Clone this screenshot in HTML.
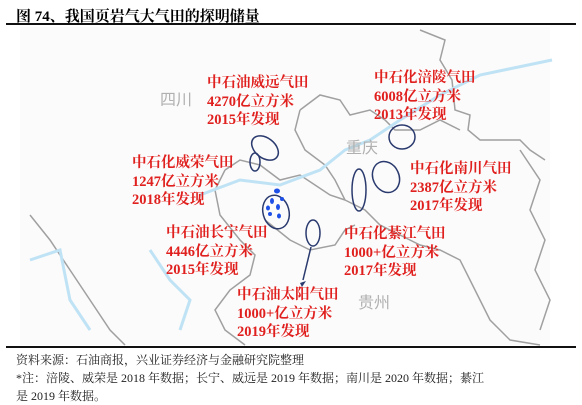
<!DOCTYPE html>
<html><head><meta charset="utf-8"><style>
body{margin:0;width:582px;height:405px;background:#fff;overflow:hidden;position:relative;font-family:"Liberation Serif","Noto Serif CJK SC",serif}
.t{position:absolute;white-space:nowrap}
.r{color:#e0201e;font-weight:bold;font-size:14.5px;line-height:18.5px}
.g{color:#b0b0b0;font-size:16px;font-family:"Liberation Sans","Noto Sans CJK SC",sans-serif}
.f{font-size:12px;color:#222;font-family:"Liberation Serif","Noto Serif CJK SC",serif}
</style></head><body>
<div class="t" style="left:16px;top:5px;font-size:15px;font-weight:bold;font-family:'Liberation Serif','Noto Serif CJK SC',serif">图 74、我国页岩气大气田的探明储量</div>
<div style="position:absolute;left:6px;top:23px;width:570px;height:2px;background:#111"></div>
<svg style="position:absolute;left:0;top:0" width="582" height="405">
<rect x="20" y="27" width="530" height="318" fill="#fbfbfb"/>
<g fill="none" stroke="#a0a0a0" stroke-width="1.5">
<path d="M420 30 L445 40 L440 60 L452 80 L455 110 L470 115 L468 130 L480 140 L520 140 L530 150 L545 160"/>
<path d="M300 110 L320 95 L340 100 L350 115 L370 110 L385 120 L395 130 L420 130 L440 120 L460 130"/>
<path d="M300 110 L295 130 L305 150 L325 165 L335 180 L345 200 L365 210 L380 225 L400 235 L420 245 L440 250 L460 260 L470 280 L480 300 L490 320 L510 340 L540 345"/>
<path d="M225 170 L240 160 L260 165 L280 180 L300 175 L315 185 L330 195 L345 200"/>
<path d="M225 170 L215 190 L220 215 L240 240 L255 255 L250 275 L230 290 L215 310 L225 330 L245 345"/>
<path d="M265 220 L290 240 L310 250 L335 245 L345 230 L355 225"/>
<path d="M30 215 L50 240 L70 270 L90 300 L110 330 L125 345"/>
<path d="M520 150 L540 180 L530 210 L545 240 L535 270 L550 300 L540 330"/>
</g>
<g fill="none" stroke="#bfe3f5" stroke-width="3">
<path d="M200 195 L240 180 L280 185 L320 170 L345 150 L370 140 L400 120 L440 95 L480 75 L552 60"/>
<path d="M30 260 L60 250 L70 300 L90 330"/>
<path d="M150 250 L170 280 L190 300 L180 330"/>
</g>
<g fill="none" stroke="#2a3a6e" stroke-width="1.5">
<ellipse cx="265" cy="148" rx="15" ry="10" transform="rotate(38 265 148)"/>
<ellipse cx="255" cy="162" rx="5" ry="9"/>
<ellipse cx="402" cy="137" rx="13" ry="12"/>
<ellipse cx="386" cy="177" rx="13" ry="16" transform="rotate(-25 386 177)"/>
<ellipse cx="359" cy="190" rx="7" ry="21"/>
<ellipse cx="276" cy="212" rx="13" ry="17" transform="rotate(-15 276 212)"/>
<ellipse cx="313" cy="233" rx="7" ry="13"/>
<line x1="311" y1="247" x2="303" y2="280"/>
</g>
<polygon points="300,283 306,281 302,287" fill="#2a3a6e"/>
<g fill="#1e50e8">
<ellipse cx="277" cy="191" rx="3" ry="2.5"/><ellipse cx="272" cy="201" rx="2" ry="3"/><ellipse cx="268" cy="208" rx="2" ry="2.5"/>
<ellipse cx="278" cy="207" rx="2" ry="3"/><ellipse cx="282" cy="199" rx="2" ry="2"/><ellipse cx="279" cy="216" rx="2" ry="2.5"/><ellipse cx="270" cy="214" rx="2" ry="2"/>
</g>
</svg>
<div class="t g" style="left:160px;top:86px">四川</div>
<div class="t g" style="left:346px;top:134px">重庆</div>
<div class="t g" style="left:358px;top:289px">贵州</div>
<div class="t r" style="left:207px;top:74px">中石油威远气田<br>4270亿立方米<br>2015年发现</div>
<div class="t r" style="left:374px;top:69px">中石化涪陵气田<br>6008亿立方米<br>2013年发现</div>
<div class="t r" style="left:132px;top:154px">中石化威荣气田<br>1247亿立方米<br>2018年发现</div>
<div class="t r" style="left:410px;top:160px">中石化南川气田<br>2387亿立方米<br>2017年发现</div>
<div class="t r" style="left:166px;top:224px">中石油长宁气田<br>4446亿立方米<br>2015年发现</div>
<div class="t r" style="left:344px;top:225px">中石化綦江气田<br>1000+亿立方米<br>2017年发现</div>
<div class="t r" style="left:237px;top:286px">中石油太阳气田<br>1000+亿立方米<br>2019年发现</div>
<div style="position:absolute;left:6px;top:346px;width:570px;height:2px;background:#111"></div>
<div class="t f" style="left:16px;top:351px">资料来源：石油商报，兴业证券经济与金融研究院整理</div>
<div class="t f" style="left:16px;top:369px">*注：涪陵、威荣是 2018 年数据；长宁、威远是 2019 年数据；南川是 2020 年数据；綦江</div>
<div class="t f" style="left:16px;top:387px">是 2019 年数据。</div>
</body></html>
